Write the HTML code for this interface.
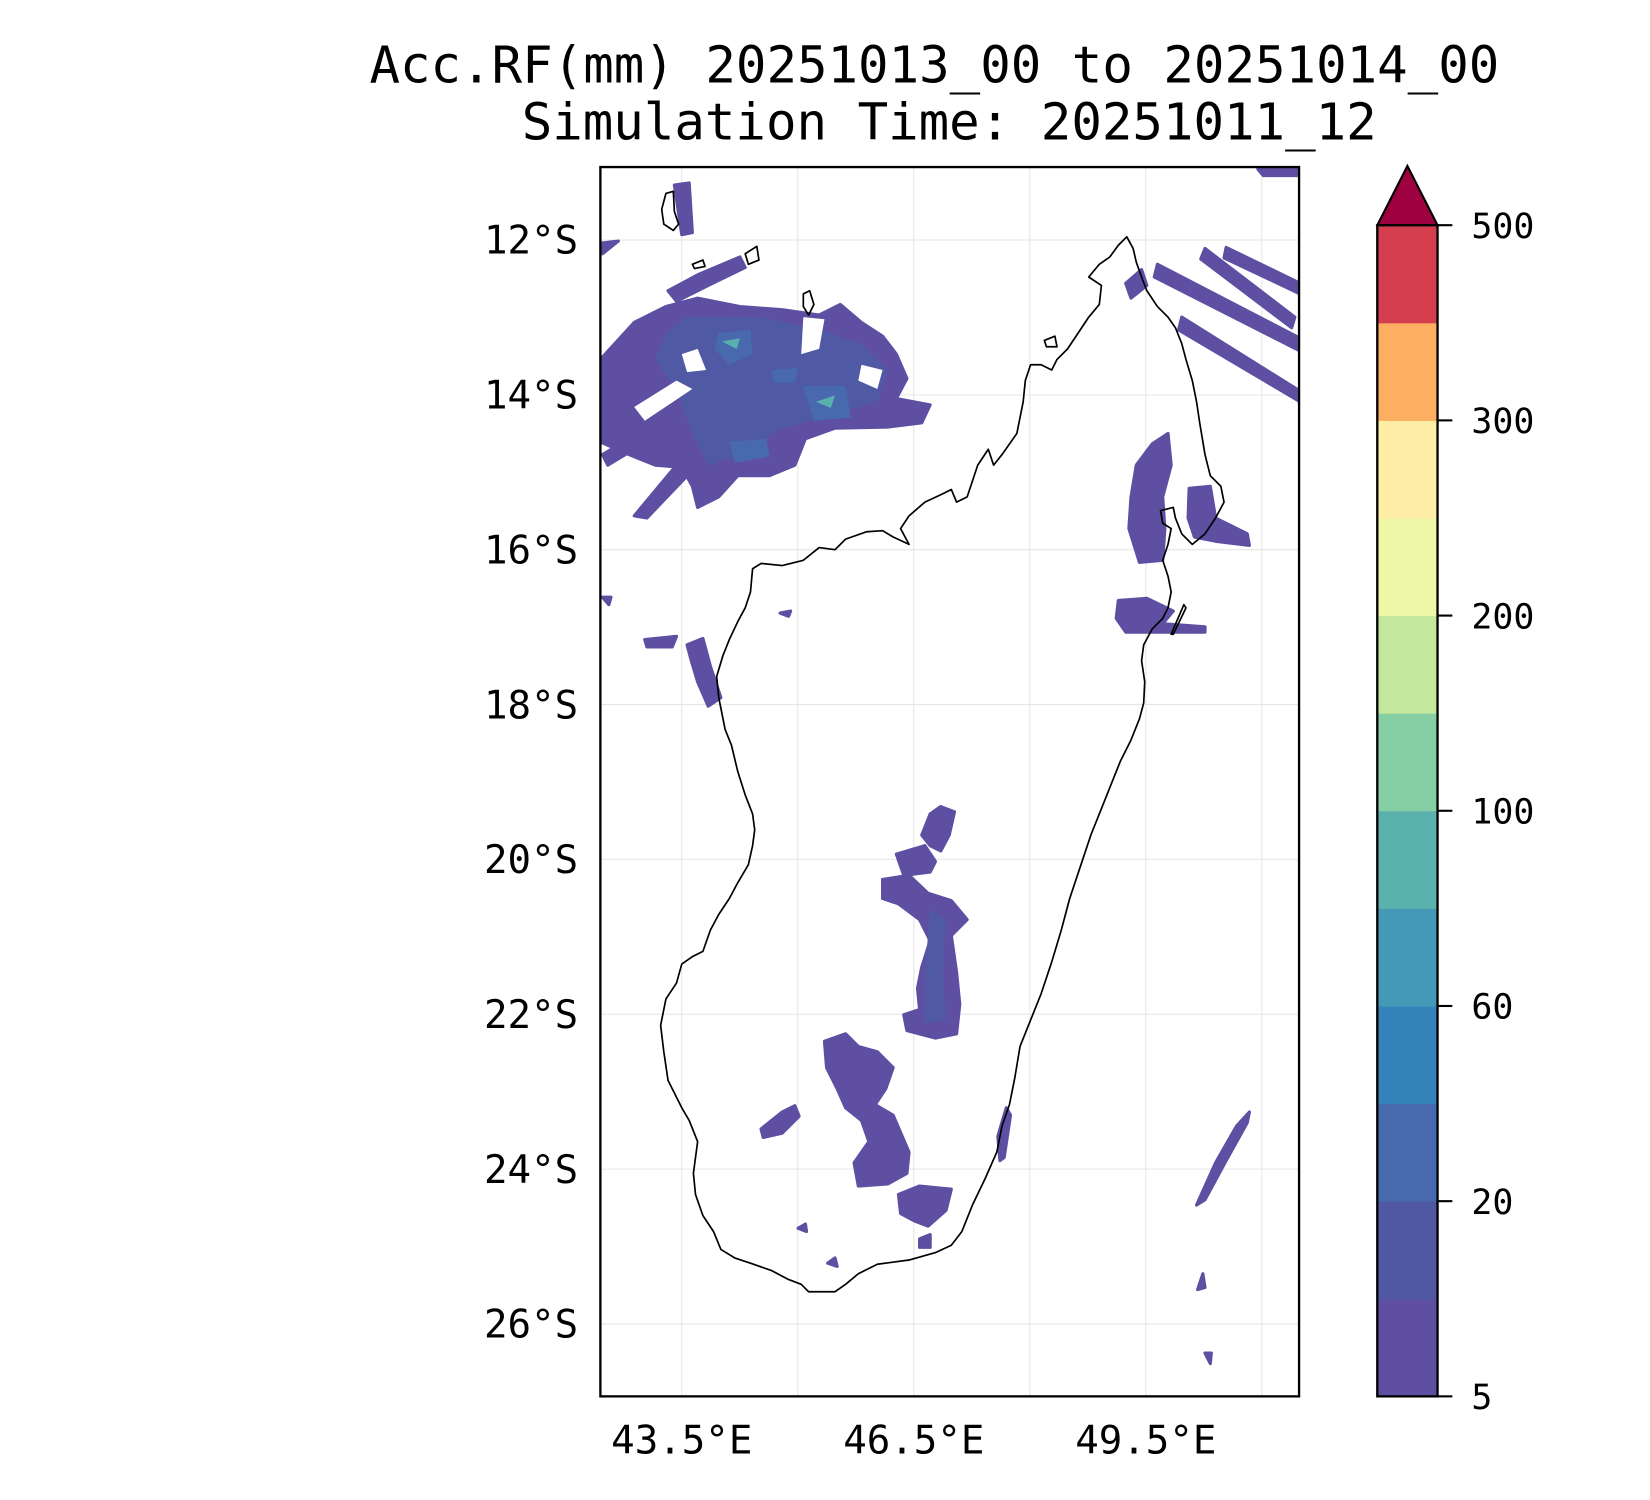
<!DOCTYPE html>
<html><head><meta charset="utf-8"><style>
html,body{margin:0;padding:0;background:#fff;}
svg{display:block;font-family:"DejaVu Sans Mono","Liberation Mono",monospace;}
</style></head><body>
<svg id="fig" xmlns="http://www.w3.org/2000/svg" width="1650" height="1500" viewBox="0 0 1561 1419">
<rect width="1561" height="1419" fill="#fff"/>
<text x="884" y="78" font-size="48" text-anchor="middle">Acc.RF(mm) 20251013_00 to 20251014_00</text>
<text x="898" y="132" font-size="48" text-anchor="middle">Simulation Time: 20251011_12</text>
<defs><clipPath id="mapclip"><rect x="568" y="158" width="661" height="1163"/></clipPath></defs>
<g id="grid"></g>
<g clip-path="url(#mapclip)" stroke-linejoin="round">
 <g fill="#5e4fa2" stroke="#5e4fa2" stroke-width="3">
  <path d="M568,340 L600,305 L630,290 L660,282 L700,290 L740,293 L775,298 L795,288 L815,305 L835,318 L848,335 L858,358 L848,377 L880,383 L872,400 L840,404 L790,405 L762,415 L752,440 L728,450 L698,450 L680,470 L660,480 L655,460 L645,442 L620,440 L595,430 L568,418 Z"/>
  <path d="M600,488 L640,440 L655,445 L612,490 Z"/>
  <path d="M570,430 L620,400 L625,410 L575,440 Z"/>
  <path d="M638,175 L652,173 L655,220 L645,222 Z"/>
  <path d="M632,275 L660,260 L700,243 L705,253 L670,270 L640,285 Z"/>
  <path d="M568,230 L585,228 L570,240 Z"/>
  <path d="M1095,250 L1230,320 L1230,332 L1092,262 Z"/>
  <path d="M1160,234 L1230,268 L1230,278 L1158,244 Z"/>
  <path d="M1118,300 L1230,370 L1230,380 L1115,312 Z"/>
  <path d="M1140,235 L1225,300 L1222,310 L1136,245 Z"/>
  <path d="M1190,160 L1229,158 L1229,166 L1195,166 Z"/>
  <path d="M1065,268 L1080,255 L1085,270 L1070,282 Z"/>
  <path d="M1075,440 L1090,420 L1105,410 L1108,440 L1100,470 L1102,500 L1100,530 L1078,532 L1068,500 L1070,470 Z"/>
  <path d="M1125,462 L1145,460 L1150,490 L1180,505 L1182,516 L1150,512 L1130,508 L1124,490 Z"/>
  <path d="M1058,568 L1085,566 L1110,578 L1100,590 L1140,593 L1140,598 L1065,598 L1056,585 Z"/>
  <path d="M610,605 L640,602 L636,612 L612,612 Z"/>
  <path d="M650,610 L665,604 L672,630 L682,660 L670,668 L660,645 L654,625 Z"/>
  <path d="M880,770 L890,763 L903,768 L898,790 L890,805 L880,800 L872,790 Z"/>
  <path d="M848,808 L875,800 L885,815 L880,825 L855,828 Z"/>
  <path d="M835,832 L860,828 L878,845 L900,852 L915,870 L900,885 L905,920 L908,950 L905,978 L885,982 L858,975 L855,960 L870,955 L868,935 L872,915 L880,890 L870,870 L850,855 L835,850 Z"/>
  <path d="M780,985 L800,978 L812,990 L830,995 L845,1010 L838,1030 L828,1045 L845,1055 L860,1090 L858,1110 L840,1120 L812,1122 L808,1100 L822,1080 L815,1060 L800,1048 L792,1030 L782,1010 Z"/>
  <path d="M850,1130 L870,1122 L900,1125 L895,1145 L878,1160 L865,1155 L852,1148 Z"/>
  <path d="M720,1068 L740,1052 L752,1046 L756,1056 L740,1072 L722,1076 Z"/>
  <path d="M944,1075 L952,1048 L956,1055 L950,1095 L946,1098 Z"/>
  <path d="M1132,1140 L1150,1100 L1170,1065 L1182,1052 L1180,1062 L1160,1098 L1140,1135 Z"/>
  <path d="M1133,1220 L1138,1205 L1140,1218 Z"/>
  <path d="M738,580 L748,578 L746,583 Z"/>
  <path d="M783,1195 L790,1190 L792,1198 Z"/>
  <path d="M755,1162 L762,1158 L763,1165 Z"/>
  <path d="M870,1172 L880,1168 L880,1180 L870,1180 Z"/>
  <path d="M1140,1280 L1146,1280 L1145,1290 Z"/>
  <path d="M570,565 L578,565 L576,572 Z"/>
 </g>
 <g fill="#5059a3" stroke="none">
  <path d="M650,300 L720,300 L770,310 L815,325 L840,350 L830,380 L780,395 L740,405 L700,430 L670,440 L655,410 L640,370 L620,340 L630,315 Z"/>
  <path d="M880,860 L895,870 L892,920 L895,965 L875,968 L875,920 Z"/>
 </g>
 <g fill="#4869ae" stroke="none">
  <path d="M680,315 L710,312 L712,335 L690,345 L676,330 Z"/>
  <path d="M760,365 L800,365 L805,395 L770,398 Z"/>
  <path d="M690,418 L725,415 L728,432 L695,438 Z"/>
  <path d="M730,350 L755,348 L752,362 L732,362 Z"/>
 </g>
 <g fill="#5ab0ad" stroke="none">
  <path d="M683,323 L700,320 L697,330 Z"/>
  <path d="M772,380 L790,374 L786,386 Z"/>
 </g>
 <g fill="#fff" stroke="none">
  <path d="M600,385 L640,360 L655,368 L610,398 Z"/>
  <path d="M760,300 L780,302 L775,330 L758,335 Z"/>
  <path d="M645,335 L660,330 L668,350 L650,352 Z"/>
  <path d="M815,345 L835,350 L830,368 L812,360 Z"/>
 </g>
</g>
<g fill="none" stroke="#000" stroke-width="1.6" stroke-linejoin="round">
 <path d="M1066,224 L1072,235 L1075,248 L1080,262 L1085,275 L1095,290 L1105,300 L1112,310 L1118,325 L1122,340 L1128,360 L1132,380 L1135,400 L1140,430 L1145,450 L1155,460 L1158,475 L1150,490 L1140,505 L1128,515 L1118,505 L1112,490 L1110,480 L1098,483 L1100,495 L1108,500 L1105,515 L1100,530 L1105,545 L1108,560 L1105,575 L1100,585 L1090,595 L1082,610 L1080,625 L1083,645 L1082,665 L1078,680 L1070,700 L1060,720 L1052,740 L1042,765 L1032,790 L1022,820 L1012,850 L1004,880 L995,910 L985,940 L975,965 L965,990 L960,1020 L955,1045 L948,1065 L943,1090 L932,1115 L920,1140 L910,1165 L900,1178 L885,1185 L860,1192 L830,1196 L812,1205 L800,1215 L790,1222 L765,1222 L758,1215 L745,1210 L730,1202 L710,1195 L695,1190 L682,1182 L675,1165 L665,1150 L658,1130 L656,1110 L660,1080 L652,1060 L645,1048 L632,1022 L628,995 L625,970 L630,945 L640,930 L645,912 L655,905 L665,900 L672,880 L680,865 L690,850 L698,835 L708,818 L712,800 L714,785 L712,770 L705,752 L698,730 L692,705 L686,690 L683,675 L680,660 L678,640 L684,620 L690,605 L698,588 L705,575 L710,560 L712,538 L720,533 L740,535 L760,530 L775,518 L790,520 L800,510 L820,503 L835,502 L845,508 L860,515 L852,500 L860,488 L875,475 L890,468 L900,463 L905,475 L915,470 L920,455 L925,440 L935,425 L940,440 L948,430 L955,420 L962,410 L965,395 L968,380 L970,360 L975,345 L985,345 L995,350 L1000,340 L1010,330 L1020,315 L1030,300 L1040,288 L1042,270 L1030,262 L1040,250 L1050,243 L1058,232 L1066,224 Z"/>
 <path d="M630,183 L637,181 L638,200 L642,212 L637,218 L628,212 L626,198 Z"/>
 <path d="M655,250 L665,246 L667,252 L657,254 Z"/>
 <path d="M705,240 L716,233 L718,246 L708,250 Z"/>
 <path d="M760,278 L766,275 L770,288 L765,298 L760,290 Z"/>
 <path d="M1108,600 L1120,572 L1122,575 L1110,600 Z"/>
 <path d="M988,322 L998,318 L1000,328 L990,328 Z"/>
</g>
<rect x="568" y="158" width="661" height="1163" fill="none" stroke="#000" stroke-width="2.2"/>
<g id="axes-labels" font-size="37"></g>
<g id="cbar"></g>
<script>
const lonTicks = [43.5, 46.5, 49.5];
const lonGrid = [43.5, 45, 46.5, 48, 49.5, 51];
const latTicks = [-12, -14, -16, -18, -20, -22, -24, -26];
const cbLevels = [5, 10, 20, 40, 60, 80, 100, 150, 200, 250, 300, 400, 500];
const cbColors = ["#5e4fa2","#5158a3","#4869ae","#3682ba","#4399b6","#5ab1ad","#86cfa5","#c4e79e","#eff8a6","#feeda4","#fdae61","#d53e4f"];
const cbTickLabels = ["5","20","60","100","200","300","500"];
const cbOver = "#9e0142";
const NS = "http://www.w3.org/2000/svg";
function xLon(lon){ return 645 + (lon - 43.5) * 73.17; }
function yLat(lat){ return 227 + (-12 - lat) * 73.25; }
function mk(tag, attrs, parent){ const e = document.createElementNS(NS, tag); for (const k in attrs) e.setAttribute(k, attrs[k]); parent.appendChild(e); return e; }
const grid = document.getElementById('grid');
lonGrid.forEach(lon => {
  const l = mk('line', {x1: xLon(lon), x2: xLon(lon), y1: 158, y2: 1321, stroke: '#e6e6e6', 'stroke-width': 1}, grid);
  
  
});
latTicks.forEach(lat => {
  const l = mk('line', {x1: 568, x2: 1229, y1: yLat(lat), y2: yLat(lat), stroke: '#e6e6e6', 'stroke-width': 1}, grid);
  
  
});
const ax = document.getElementById('axes-labels');
lonTicks.forEach(lon => {
  const t = mk('text', {x: xLon(lon), y: 1375, 'text-anchor': 'middle'}, ax);
  t.textContent = lon.toFixed(1) + '°E';
  
  
});
latTicks.forEach(lat => {
  const t = mk('text', {x: 547, y: yLat(lat) + 13, 'text-anchor': 'end'}, ax);
  t.textContent = Math.abs(lat) + '°S';
  
  
});
const cb = document.getElementById('cbar');
const cbX = 1303, cbW = 57, cbTop = 213, cbBot = 1321;
const bandH = (cbBot - cbTop) / cbColors.length;
cbColors.forEach((c, i) => {
  const r = mk('rect', {x: cbX, y: cbBot - (i + 1) * bandH, width: cbW, height: bandH + 0.5, fill: c}, cb);
  
  
});
const arrow = mk('path', {d: `M${cbX},${cbTop} L${cbX + cbW/2},157 L${cbX + cbW},${cbTop} Z`, fill: cbOver, stroke: '#000', 'stroke-width': 2}, cb);


const outline = mk('rect', {x: cbX, y: cbTop, width: cbW, height: cbBot - cbTop, fill: 'none', stroke: '#000', 'stroke-width': 2.2}, cb);


cbTickLabels.forEach(lab => {
  const idx = cbLevels.indexOf(Number(lab));
  const y = cbBot - idx * bandH;
  const tk = mk('line', {x1: cbX + cbW, x2: cbX + cbW + 14, y1: y, y2: y, stroke: '#000', 'stroke-width': 2}, cb);
  
  
  const t = mk('text', {x: 1392, y: y + 12, 'font-size': 33}, cb);
  t.textContent = lab;
  
  
});
</script>
</svg>
</body></html>
